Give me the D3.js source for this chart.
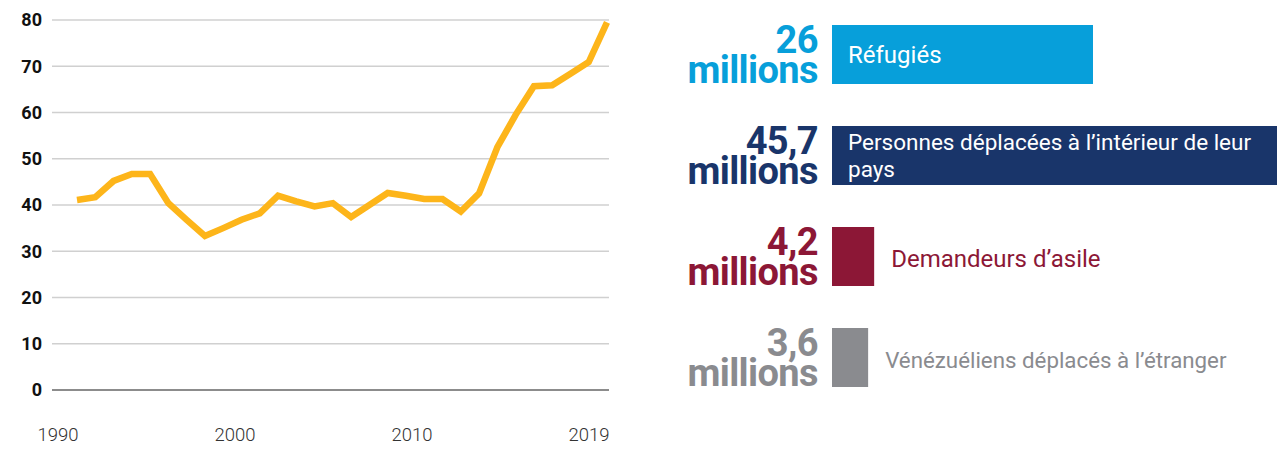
<!DOCTYPE html>
<html>
<head>
<meta charset="utf-8">
<script src="https://cdn.jsdelivr.net/npm/d3@7"></script>
<style>
  html, body { margin: 0; padding: 0; background: #fff; }
  svg { display: block; font-family: Roboto, "Noto Sans", sans-serif; }
</style>
</head>
<body>
<svg id="chart" width="1277" height="450"></svg>
<script>
// ---- Data ----
const years = [1990,1991,1992,1993,1994,1995,1996,1997,1998,1999,
               2000,2001,2002,2003,2004,2005,2006,2007,2008,2009,
               2010,2011,2012,2013,2014,2015,2016,2017,2018,2019];
const displaced = [41.1,41.7,45.2,46.7,46.7,40.4,36.8,33.3,35.0,36.8,
                   38.2,42.0,40.8,39.7,40.4,37.4,40.0,42.6,42.0,41.3,
                   41.3,38.6,42.5,52.5,59.5,65.7,65.9,68.4,70.9,79.5];
const yTicks = [0,10,20,30,40,50,60,70,80];
const xTickLabels = ["1990","2000","2010","2019"];

const groupValues = [26, 45.7, 4.2, 3.6];
const groupValueLabels = ["26", "45,7", "4,2", "3,6"];
const groupUnit = "millions";
const groupNames = ["Réfugiés",
                    "Personnes déplacées à l’intérieur de leur pays",
                    "Demandeurs d’asile",
                    "Vénézuéliens déplacés à l’étranger"];
const groupColors = ["#079fda", "#19356a", "#8c1736", "#8a8b8f"];
const groupLabelInside = [true, true, false, false];

// ---- Line chart ----
const svg = d3.select("#chart");
const x = d3.scaleLinear().domain([1990, 2019]).range([77, 607]);
const y = d3.scaleLinear().domain([0, 80]).range([390, 20]);
const xLab = d3.scalePoint().domain(xTickLabels).range([58, 589]);

const grid = svg.append("g");
grid.selectAll("line").data(yTicks).join("line")
  .attr("x1", 52).attr("x2", 609)
  .attr("y1", d => y(d)).attr("y2", d => y(d))
  .attr("stroke", d => d === 0 ? "#666" : "#d0d0d0")
  .attr("stroke-width", 1.5);

svg.append("g").selectAll("text").data(yTicks).join("text")
  .attr("x", 42).attr("y", d => y(d)).attr("dy", "0.36em")
  .attr("text-anchor", "end")
  .attr("font-size", 18).attr("font-weight", 700).attr("fill", "#111")
  .text(d => d);

svg.append("g").selectAll("text").data(xTickLabels).join("text")
  .attr("x", d => xLab(d)).attr("y", 441)
  .attr("text-anchor", "middle")
  .attr("font-size", 18.5).attr("font-weight", 300).attr("fill", "#333")
  .text(d => d);

const line = d3.line().x((d, i) => x(years[i])).y(d => y(d));
svg.append("path").datum(displaced)
  .attr("d", line)
  .attr("fill", "none").attr("stroke", "#fdb51a")
  .attr("stroke-width", 6.5).attr("stroke-linejoin", "miter");

// ---- Right panel ----
const rowY = d3.scalePoint().domain(d3.range(4)).range([25, 328]);
const w = d3.scaleLinear().domain([0, 26]).range([0, 261]);
const barX = 832, barH = 59;
const labelSize = [24, 22.5, 24, 22.3];

const rows = svg.append("g").selectAll("g").data(d3.range(4)).join("g")
  .attr("transform", i => `translate(0,${rowY(i)})`);

rows.append("rect")
  .attr("x", barX).attr("y", 0)
  .attr("width", i => w(groupValues[i])).attr("height", barH)
  .attr("fill", i => groupColors[i]);

const num = rows.append("text")
  .attr("text-anchor", "end").attr("font-weight", 700)
  .attr("font-size", 38).attr("letter-spacing", -0.6)
  .attr("fill", i => groupColors[i]);
num.append("tspan").attr("x", 818).attr("y", 28).text(i => groupValueLabels[i]);
num.append("tspan").attr("x", 818).attr("y", 58).text(groupUnit);

rows.each(function(i) {
  const g = d3.select(this);
  if (i === 1) {
    const t = g.append("text").attr("font-size", labelSize[i]).attr("fill", "#fff");
    t.append("tspan").attr("x", 848).attr("y", 24).text("Personnes déplacées à l’intérieur de leur");
    t.append("tspan").attr("x", 848).attr("y", 51).text("pays");
  } else if (groupLabelInside[i]) {
    g.append("text").attr("x", 848).attr("y", 38)
      .attr("font-size", labelSize[i]).attr("fill", "#fff").text(groupNames[i]);
  } else {
    g.append("text")
      .attr("x", barX + w(groupValues[i]) + 17).attr("y", 40)
      .attr("font-size", labelSize[i]).attr("fill", groupColors[i]).text(groupNames[i]);
  }
});
</script>
</body>
</html>
